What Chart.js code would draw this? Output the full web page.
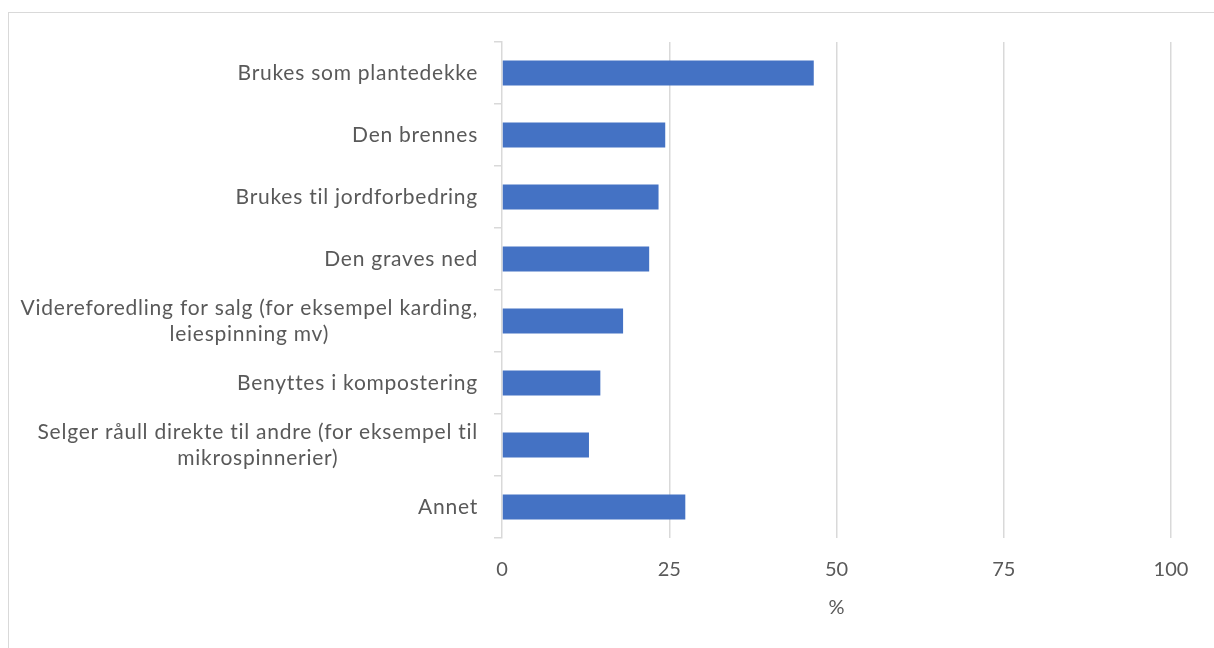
<!DOCTYPE html>
<html>
<head>
<meta charset="utf-8">
<script src="https://cdn.jsdelivr.net/npm/chart.js@4/dist/chart.umd.min.js"></script>
<style>
  html, body { margin: 0; padding: 0; background: #fff; }
  #wrap { position: relative; width: 1214px; height: 648px; }
  #frame {
    position: absolute; left: 8px; top: 12px; right: -10px; bottom: -10px;
    border-left: 1.5px solid #d9d9d9; border-top: 1.5px solid #d9d9d9;
    pointer-events: none;
  }
</style>
</head>
<body>
<div id="wrap">
  <canvas id="chart" width="1214" height="648"></canvas>
  <div id="frame"></div>
</div>
<script>
// --- Data ---
const categories = [
    'Brukes som plantedekke',
    'Den brennes',
    'Brukes til jordforbedring',
    'Den graves ned',
    ['Videreforedling for salg (for eksempel karding,', 'leiespinning mv)'],
    'Benyttes i kompostering',
    ['Selger råull direkte til andre (for eksempel til', 'mikrospinnerier)'],
    'Annet'
];
const values = [46.6, 24.4, 23.4, 22.0, 18.1, 14.7, 13.0, 27.4];
const xTicks = [0, 25, 50, 75, 100];
const xTitle = '%';

const textColor = '#595959';
const gridColor = '#d9d9d9';
const fontFamily = 'Lato, "Open Sans", sans-serif';

// Category labels: block right-aligned, lines centered within the block (like Excel)
const labelPlugin = {
    id: 'catLabels',
    afterDraw(chart) {
        const ctx = chart.ctx;
        const yScale = chart.scales.y;
        const rightEdge = yScale.right - 8 - 16;
        const lineH = 26;
        ctx.save();
        ctx.font = '21px ' + fontFamily;
        ctx.letterSpacing = '0.75px';
        ctx.fillStyle = textColor;
        ctx.textBaseline = 'middle';
        ctx.textAlign = 'center';
        categories.forEach((lab, i) => {
            const lines = Array.isArray(lab) ? lab : [lab];
            const w = Math.max(...lines.map(l => ctx.measureText(l).width));
            const cx = rightEdge - w / 2;
            const cy = yScale.getPixelForTick(i);
            const y0 = cy - (lines.length - 1) * lineH / 2;
            lines.forEach((l, j) => ctx.fillText(l, cx, y0 + j * lineH));
        });
        ctx.restore();
    }
};

Chart.defaults.font.family = fontFamily;
Chart.defaults.font.size = 20;
Chart.defaults.color = textColor;

new Chart(document.getElementById('chart'), {
    type: 'bar',
    data: {
        labels: categories,
        datasets: [{
            data: values,
            backgroundColor: '#4472C4',
            borderWidth: 0,
            barPercentage: 0.4,
            categoryPercentage: 1.0
        }]
    },
    options: {
        indexAxis: 'y',
        responsive: false,
        animation: false,
        layout: { padding: { top: 42, right: 43, left: 0, bottom: 0 } },
        plugins: {
            legend: { display: false },
            tooltip: { enabled: false }
        },
        scales: {
            x: {
                min: 0,
                max: 100,
                afterBuildTicks: (scale) => {
                    scale.ticks = xTicks.map(v => ({ value: v }));
                },
                afterFit: (scale) => { scale.height = 110; },
                grid: {
                    color: (c) => c.tick && c.tick.value === 0 ? 'rgba(0,0,0,0)' : gridColor,
                    lineWidth: 1.5,
                    drawTicks: false
                },
                border: { display: false },
                ticks: { padding: 20, color: textColor, font: { size: 20 } },
                title: {
                    display: true,
                    text: xTitle,
                    color: textColor,
                    font: { size: 20 },
                    padding: { top: 0, bottom: 28 }
                }
            },
            y: {
                afterFit: (scale) => { scale.width = 502; },
                grid: {
                    drawOnChartArea: false,
                    drawTicks: true,
                    tickLength: 8,
                    color: gridColor,
                    lineWidth: 1.5
                },
                border: { display: true, color: gridColor, width: 1.5 },
                ticks: { color: 'rgba(0,0,0,0)', padding: 16 }
            }
        }
    },
    plugins: [labelPlugin]
});
</script>
</body>
</html>
